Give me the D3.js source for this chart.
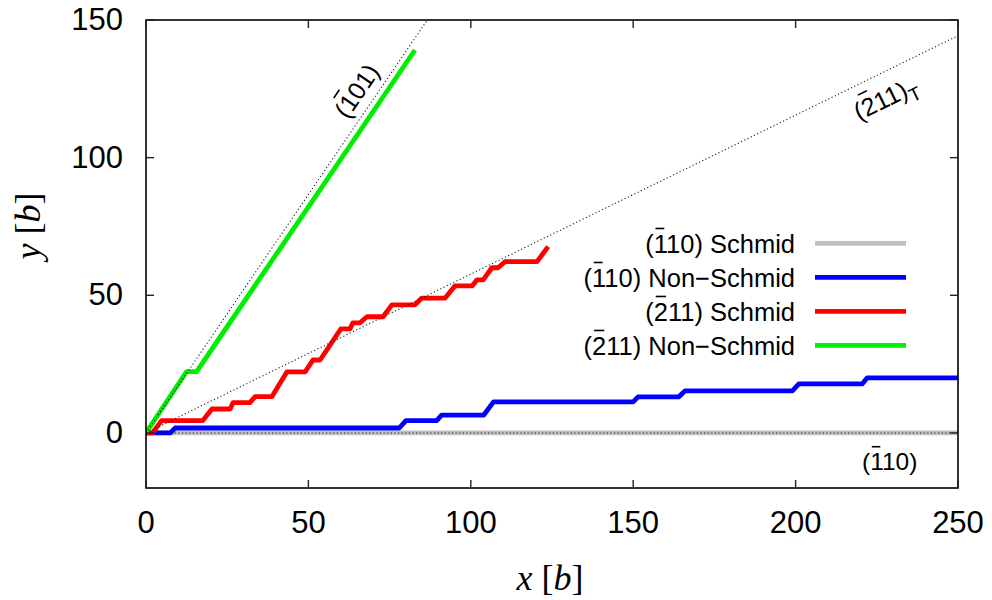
<!DOCTYPE html>
<html><head><meta charset="utf-8">
<script src="https://cdn.jsdelivr.net/npm/d3@7"></script>
<style>body{margin:0;background:#fff}</style>
</head><body>
<svg id="c" width="992" height="600"></svg>
<script>
// ---------- data ----------
const xTicks = [0, 50, 100, 150, 200, 250];
const yTicks = [0, 50, 100, 150];
const xDomain = [0, 250];
const yDomain = [-20, 150];

const seriesNames = ["(1̄10) Schmid", "(1̄10) Non\u2212Schmid", "(2̄11) Schmid", "(2̄11) Non\u2212Schmid"];
const seriesColors = ["#c0c0c0", "#0000ff", "#ff0000", "#00ee00"];

const schmid110 = [[0, 0], [250, 0]];
const nonSchmid110 = [[0, 0], [7.5, 0], [9, 1.8], [78, 1.8], [80, 4.5], [89.5, 4.5], [91, 6.5], [104, 6.5], [107, 11.3],
  [150, 11.3], [151.5, 13.1], [164, 13.1], [166, 15.3], [199, 15.3], [201, 17.8], [220.5, 17.8], [222, 20], [250, 20]];
const schmid211 = [[0, 0], [2, 0], [4.8, 4.5], [17.5, 4.5], [20.3, 8.7], [25.9, 8.7], [26.8, 11.0], [32.0, 11.0], [33.6, 13.2],
  [38.8, 13.2], [43.4, 22.2], [49.0, 22.2], [51.4, 26.5], [53.6, 26.5], [60.0, 37.8], [62.8, 37.8], [63.7, 40.0],
  [65.9, 40.0], [68.0, 42.2], [73.0, 42.2], [75.7, 46.5], [82.8, 46.5], [84.9, 49.0], [92.1, 49.0], [95.1, 53.4],
  [100.4, 53.4], [101.9, 55.6], [103.8, 55.6], [106.5, 60.0], [108.4, 60.0], [110.5, 62.2], [120.4, 62.2], [123.8, 67.7]];
const nonSchmid211 = [[0, 0], [12.5, 22.3], [15.6, 22.3], [82.8, 139.1]];
const seriesData = [schmid110, nonSchmid110, schmid211, nonSchmid211];

const guide101 = [[0, 0], [86.6, 150]];
const guide211 = [[0, 0], [250, 144.3]];
const guide110 = [[0, 0], [250, 0]];
const guideLabels = ["(1̄01)", "(2̄11)", "(1̄10)"];
const guideSub = "T";

// ---------- layout ----------
const svg = d3.select("#c");
const L = 146, R = 958, T = 20, B = 488;
const x = d3.scaleLinear().domain(xDomain).range([L, R]);
const y = d3.scaleLinear().domain(yDomain).range([B, T]);
const sans = "'Liberation Sans', Arial, Helvetica, sans-serif";
const serif = "'Liberation Serif', 'Times New Roman', serif";

// rich text: chars followed by U+0304 get an overbar
function richText(g, str, opt) {
  const chars = [];
  for (const ch of str) {
    if (ch === "\u0304") chars[chars.length - 1].bar = true;
    else chars.push({ c: ch, bar: false });
  }
  const fs = opt.size;
  const t = g.append("text")
    .attr("x", opt.x).attr("y", opt.y)
    .attr("text-anchor", opt.anchor || "start")
    .attr("font-family", sans).attr("font-size", fs).attr("fill", "#000");
  t.append("tspan").text(chars.map(d => d.c).join(""));
  if (opt.sub) t.append("tspan").attr("font-size", fs * 0.75).attr("dy", fs * 0.28).text(opt.sub);
  chars.forEach((d, i) => {
    if (!d.bar) return;
    const e = t.node().getExtentOfChar(i);
    g.append("line")
      .attr("x1", e.x + e.width * 0.14).attr("x2", e.x + e.width * 0.86)
      .attr("y1", opt.y - fs * 0.95).attr("y2", opt.y - fs * 0.95)
      .attr("stroke", "#000").attr("stroke-width", 1.6);
  });
  return t;
}

// clip
svg.append("clipPath").attr("id", "clip").append("rect")
  .attr("x", L).attr("y", T).attr("width", R - L).attr("height", B - T);

const line = d3.line().x(d => x(d[0])).y(d => y(d[1]));
const plot = svg.append("g").attr("clip-path", "url(#clip)");

// series
seriesData.forEach((s, i) => {
  plot.append("path").attr("d", line(s)).attr("fill", "none")
    .attr("stroke", seriesColors[i]).attr("stroke-width", 4.8)
    .attr("stroke-linejoin", "round").attr("stroke-linecap", "butt");
});

// guide dotted lines
[guide101, guide211, guide110].forEach(gd => {
  plot.append("path").attr("d", line(gd)).attr("fill", "none")
    .attr("stroke", "#222").attr("stroke-width", 1.1).attr("stroke-dasharray", "1.2,2.4");
});

// frame
svg.append("rect").attr("x", L).attr("y", T).attr("width", R - L).attr("height", B - T)
  .attr("fill", "none").attr("stroke", "#000").attr("stroke-width", 1.6);

// ticks (inward, mirrored)
const tk = 8;
xTicks.forEach(v => {
  svg.append("line").attr("x1", x(v)).attr("x2", x(v)).attr("y1", B).attr("y2", B - tk).attr("stroke", "#222").attr("stroke-width", 1.4);
  svg.append("line").attr("x1", x(v)).attr("x2", x(v)).attr("y1", T).attr("y2", T + tk).attr("stroke", "#222").attr("stroke-width", 1.4);
  svg.append("text").attr("x", x(v)).attr("y", 533).attr("text-anchor", "middle")
    .attr("font-family", sans).attr("font-size", 31).text(v);
});
yTicks.forEach(v => {
  svg.append("line").attr("x1", L).attr("x2", L + tk).attr("y1", y(v)).attr("y2", y(v)).attr("stroke", "#222").attr("stroke-width", 1.4);
  svg.append("line").attr("x1", R).attr("x2", R - tk).attr("y1", y(v)).attr("y2", y(v)).attr("stroke", "#222").attr("stroke-width", 1.4);
  svg.append("text").attr("x", 123).attr("y", y(v) + 10).attr("text-anchor", "end")
    .attr("font-family", sans).attr("font-size", 31).text(v);
});

// axis titles
const xt = svg.append("text").attr("x", 550).attr("y", 590).attr("text-anchor", "middle")
  .attr("font-family", serif).attr("font-size", 36);
xt.append("tspan").attr("font-style", "italic").text("x");
xt.append("tspan").text(" [");
xt.append("tspan").attr("font-style", "italic").text("b");
xt.append("tspan").text("]");

const yt = svg.append("text").attr("transform", "translate(40,226) rotate(-90)").attr("text-anchor", "middle")
  .attr("font-family", serif).attr("font-size", 36);
yt.append("tspan").attr("font-style", "italic").text("y");
yt.append("tspan").text(" [");
yt.append("tspan").attr("font-style", "italic").text("b");
yt.append("tspan").text("]");

// guide labels
const g1 = svg.append("g").attr("transform", "translate(357,91) rotate(-55.7)");
richText(g1, guideLabels[0], { x: 0, y: 8.5, size: 25, anchor: "middle" });
const g2 = svg.append("g").attr("transform", "translate(859,121) rotate(-26)");
richText(g2, guideLabels[1], { x: 0, y: 0, size: 25, anchor: "start", sub: guideSub });
richText(svg.append("g"), guideLabels[2], { x: 862, y: 470, size: 24.5, anchor: "start" });

// legend
seriesNames.forEach((n, i) => {
  const by = 252.7 + i * 34;
  richText(svg.append("g"), n, { x: 795, y: by, size: 25.5, anchor: "end" });
  svg.append("line").attr("x1", 815).attr("x2", 906).attr("y1", by - 9.3).attr("y2", by - 9.3)
    .attr("stroke", seriesColors[i]).attr("stroke-width", 4.8);
});
</script>
</body></html>
